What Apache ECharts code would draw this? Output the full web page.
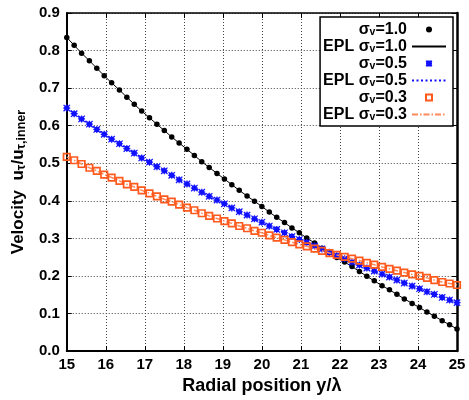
<!DOCTYPE html>
<html>
<head>
<meta charset="utf-8">
<script src="https://cdn.jsdelivr.net/npm/echarts@6/dist/echarts.min.js"></script>
<style>html,body{margin:0;padding:0;background:#fff;}#chart{width:469px;height:400px;}</style>
</head>
<body>
<div id="chart"></div>
<script>
// Radial positions y/lambda of the sampled points
var xPos = [15.00,15.19,15.38,15.58,15.77,15.96,16.15,16.35,16.54,16.73,16.92,17.12,17.31,17.50,17.69,17.88,18.08,18.27,
            18.46,18.65,18.85,19.04,19.23,19.42,19.62,19.81,20.00,20.19,20.38,20.58,20.77,20.96,21.15,21.35,21.54,21.73,
            21.92,22.12,22.31,22.50,22.69,22.88,23.08,23.27,23.46,23.65,23.85,24.04,24.23,24.42,24.62,24.81,25.00];
// sigma_v = 1.0
var vel10 = [0.835,0.814,0.793,0.773,0.753,0.733,0.714,0.695,0.676,0.657,0.639,0.621,0.604,0.587,0.570,0.554,0.537,0.521,
             0.504,0.489,0.473,0.458,0.443,0.428,0.413,0.399,0.385,0.370,0.356,0.342,0.328,0.315,0.301,0.288,0.274,0.262,
             0.249,0.237,0.225,0.212,0.199,0.187,0.174,0.163,0.151,0.139,0.127,0.116,0.104,0.093,0.081,0.070,0.059];
// sigma_v = 0.5
var vel05 = [0.647,0.632,0.618,0.604,0.590,0.577,0.564,0.552,0.539,0.527,0.514,0.503,0.491,0.480,0.468,0.456,0.445,0.434,
             0.423,0.412,0.402,0.392,0.381,0.371,0.362,0.352,0.343,0.333,0.324,0.315,0.305,0.297,0.289,0.280,0.272,0.263,
             0.254,0.246,0.237,0.229,0.221,0.213,0.205,0.197,0.189,0.181,0.173,0.166,0.158,0.151,0.143,0.136,0.129];
// sigma_v = 0.3
var vel03 = [0.517,0.508,0.498,0.488,0.480,0.470,0.462,0.453,0.444,0.437,0.428,0.420,0.412,0.404,0.398,0.390,0.382,0.375,
             0.367,0.360,0.353,0.346,0.340,0.333,0.327,0.320,0.315,0.308,0.302,0.296,0.290,0.284,0.279,0.273,0.267,0.261,
             0.256,0.251,0.246,0.241,0.235,0.230,0.224,0.219,0.214,0.209,0.204,0.200,0.195,0.189,0.184,0.180,0.176];
// EPL fits (coincide with the data points)
var epl10 = vel10, epl05 = vel05, epl03 = vel03;

var xTicks = [15,16,17,18,19,20,21,22,23,24,25];
var yTicks = ['0.0','0.1','0.2','0.3','0.4','0.5','0.6','0.7','0.8','0.9'];
var legendLabels = {
  s10: '{t|σ}{s|v}{t|=1.0}', e10: '{t|EPL σ}{s|v}{t|=1.0}',
  s05: '{t|σ}{s|v}{t|=0.5}', e05: '{t|EPL σ}{s|v}{t|=0.5}',
  s03: '{t|σ}{s|v}{t|=0.3}', e03: '{t|EPL σ}{s|v}{t|=0.3}'
};

function pairs(xs, ys){ return xs.map(function(x,i){ return [x, ys[i]]; }); }

var FONT = 'Liberation Sans';
var BLUE = '#1010ff', ORANGE = '#ff5a1e', ORANGE_LINE = '#ff8a5c';
var asterisk = 'path://M2,2L8,2L8,8L2,8Z M0,0L10,10 M10,0L0,10 M5,-0.5L5,10.5 M-0.5,5L10.5,5';
var square = 'path://M0,0L10,0L10,10L0,10Z';

var chart = echarts.init(document.getElementById('chart'), null, {renderer: 'canvas'});
chart.setOption({
  animation: false,
  backgroundColor: '#fff',
  grid: {left: 57, right: 12, top: 13, bottom: 37},
  legend: {
    orient: 'vertical', right: 16, top: 17, align: 'right',
    itemWidth: 34, itemHeight: 6, itemGap: 0,
    padding: [4, 6, 3, 3],
    borderColor: '#000', borderWidth: 1.5, backgroundColor: '#fff',
    selectedMode: false,
    formatter: function(n){ return legendLabels[n]; },
    textStyle: {
      rich: {
        t: {fontFamily: FONT, fontWeight: 'bold', fontSize: 16, color: '#000', lineHeight: 16},
        s: {fontFamily: FONT, fontWeight: 'bold', fontSize: 10.5, color: '#000', padding: [6,0,0,0], lineHeight: 16}
      }
    },
    data: [
      {name: 's10'},
      {name: 'e10', itemStyle: {opacity: 0}},
      {name: 's05'},
      {name: 'e05', itemStyle: {opacity: 0}},
      {name: 's03'},
      {name: 'e03', itemStyle: {opacity: 0}}
    ]
  },
  xAxis: [{
    type: 'value', min: 15, max: 25, interval: 1, position: 'bottom',
    name: 'Radial position y/λ', nameLocation: 'middle', nameGap: 17,
    nameTextStyle: {fontFamily: FONT, fontWeight: 'bold', fontSize: 18, color: '#000'},
    axisLine: {onZero: false, lineStyle: {color: '#000', width: 2}},
    axisTick: {inside: true, length: 5, lineStyle: {color: '#000', width: 1}},
    axisLabel: {fontFamily: FONT, fontWeight: 'bold', fontSize: 15, color: '#000', margin: 6,
                formatter: function(v){ return xTicks.indexOf(v) >= 0 ? String(v) : ''; }},
    splitLine: {show: true, lineStyle: {color: '#444', width: 1, type: [1, 2]}}
  }, {
    type: 'value', min: 15, max: 25, interval: 1, position: 'top',
    axisLine: {onZero: false, lineStyle: {color: '#000', width: 1.5}},
    axisTick: {inside: true, length: 5, lineStyle: {color: '#000', width: 1}},
    axisLabel: {show: false}, splitLine: {show: false}
  }],
  yAxis: [{
    type: 'value', min: 0, max: 0.9, interval: 0.1, position: 'left',
    name: '{t|Velocity  u}{s|τ}{t|/u}{s|τ,inner}', nameLocation: 'middle', nameGap: 33,
    nameTextStyle: {
      rich: {
        t: {fontFamily: FONT, fontWeight: 'bold', fontSize: 17, color: '#000', lineHeight: 19},
        s: {fontFamily: FONT, fontWeight: 'bold', fontSize: 12.5, color: '#000', padding: [7,0,0,0], lineHeight: 19}
      }
    },
    axisLine: {onZero: false, lineStyle: {color: '#000', width: 2}},
    axisTick: {inside: true, length: 5, lineStyle: {color: '#000', width: 1}},
    axisLabel: {fontFamily: FONT, fontWeight: 'bold', fontSize: 15, color: '#000', margin: 7,
                formatter: function(v){ return yTicks[Math.round(v * 10)]; }},
    splitLine: {show: true, lineStyle: {color: '#444', width: 1, type: [1, 2]}}
  }, {
    type: 'value', min: 0, max: 0.9, interval: 0.1, position: 'right',
    axisLine: {onZero: false, lineStyle: {color: '#000', width: 2.5}},
    axisTick: {inside: true, length: 5, lineStyle: {color: '#000', width: 1}},
    axisLabel: {show: false}, splitLine: {show: false}
  }],
  series: [
    {name: 's10', type: 'scatter', data: pairs(xPos, vel10), symbol: 'circle', symbolSize: 5.5,
     itemStyle: {color: '#000', opacity: 1}, z: 3},
    {name: 'e10', type: 'line', data: pairs(xPos, epl10), showSymbol: false, symbol: 'none',
     lineStyle: {color: '#000', width: 1}, itemStyle: {color: '#000'}, z: 3},
    {name: 's05', type: 'scatter', data: pairs(xPos, vel05), symbol: asterisk, symbolSize: 7,
     itemStyle: {color: BLUE, borderColor: BLUE, borderWidth: 1.2, opacity: 1}, z: 4},
    {name: 'e05', type: 'line', data: pairs(xPos, epl05), showSymbol: false, symbol: 'none',
     lineStyle: {color: BLUE, width: 1.5, type: [2, 2.5]}, itemStyle: {color: BLUE}, z: 4},
    {name: 's03', type: 'scatter', data: pairs(xPos, vel03), symbol: square, symbolSize: 6.5,
     itemStyle: {color: 'rgba(255,255,255,0)', borderColor: ORANGE, borderWidth: 1.7, opacity: 1}, z: 5},
    {name: 'e03', type: 'line', data: pairs(xPos, epl03), showSymbol: false, symbol: 'none',
     lineStyle: {color: ORANGE_LINE, width: 1.5, type: [6, 2, 1.5, 2]}, itemStyle: {color: ORANGE_LINE}, z: 5}
  ]
});
</script>
</body>
</html>
